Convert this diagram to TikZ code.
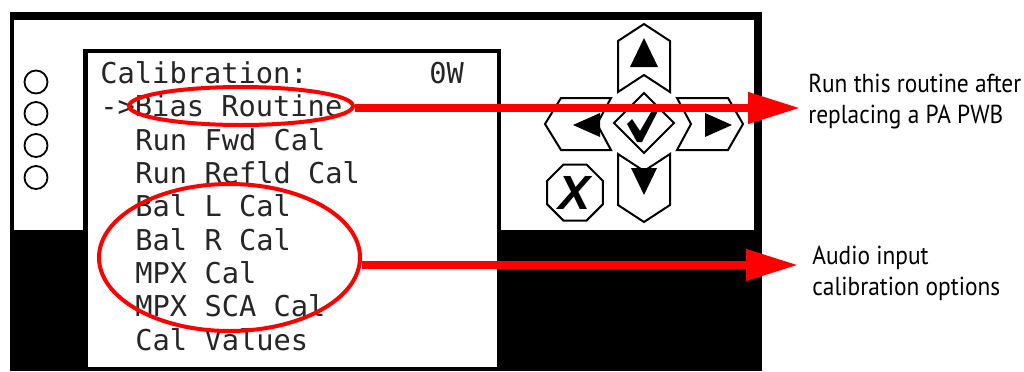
\documentclass[tikz,border=0pt]{standalone}
\usepackage{fontspec}
\setmainfont{Liberation Sans}
\newfontfamily\lcdfont{DejaVu Sans Mono}
\newfontfamily\labfont[FakeStretch=0.9]{PT Sans}
\usetikzlibrary{arrows.meta,shapes.geometric}
\begin{document}
\begin{tikzpicture}[x=0.5pt,y=-0.5pt,
  lcd/.style={anchor=base west,inner sep=0pt,font=\fontsize{14.35}{14.35}\lcdfont,text=black!85},
  lab/.style={anchor=base west,inner sep=0pt,align=left,font=\fontsize{13}{15.5}\labfont,text=black},
  key/.style={draw=black,fill=white,line width=1pt,line join=miter},
  glyph/.style={fill=black},
  led/.style={draw=black,line width=0.9pt,circle,inner sep=0pt,minimum size=11.5pt},
  ring/.style={draw=red,line width=2pt,ellipse,inner sep=0pt},
  callout/.style={draw=red,line width=3.8pt,-{Triangle[length=26pt,width=15pt]}}
]
\useasboundingbox (0,0) rectangle (1024,371);
% frame
\fill[black] (10,12) rectangle (762,371);
\fill[white] (14,20) rectangle (754,230);
% LCD
\fill[black] (83,49) rectangle (501,371);
\fill[white] (88,53) rectangle (497,367);
% LEDs
\node[led] (led1) at (36,82) {};
\node[led] (led2) at (36,113.5) {};
\node[led] (led3) at (36,145.5) {};
\node[led] (led4) at (36,177.5) {};
% LCD text
\node[lcd] (t0) at (100,83) {Calibration:};
\node[lcd] (t0w) at (429,83) {0W};
\node[lcd] (t1) at (100,116.5) {->Bias Routine};
\node[lcd] (t2) at (135,150) {Run Fwd Cal};
\node[lcd] (t3) at (135,183) {Run Refld Cal};
\node[lcd] (t4) at (135,216.5) {Bal L Cal};
\node[lcd] (t5) at (135,250) {Bal R Cal};
\node[lcd] (t6) at (135,283) {MPX Cal};
\node[lcd] (t7) at (135,316.5) {MPX SCA Cal};
\node[lcd] (t8) at (135,350) {Cal Values};
% keypad
\draw[key] (644,24) -- (670,41) -- (670,92) -- (644,75) -- (618,92) -- (618,41) -- cycle;
\fill[glyph] (644,38) -- (658,67) -- (630,67) -- cycle;
\draw[key] (644,222) -- (670,205) -- (670,154) -- (644,171) -- (618,154) -- (618,205) -- cycle;
\fill[glyph] (631,168) -- (657,168) -- (644,195) -- cycle;
\draw[key] (545,124) -- (561,98) -- (611,98) -- (597,124) -- (611,150) -- (561,150) -- cycle;
\fill[glyph] (573,125) -- (600,113) -- (600,137) -- cycle;
\draw[key] (743,124) -- (728,98) -- (677,98) -- (691,124) -- (677,150) -- (728,150) -- cycle;
\fill[glyph] (732,125) -- (705,113) -- (705,137) -- cycle;
\draw[key] (644,93) -- (674,123) -- (644,153) -- (614,123) -- cycle;
\fill[glyph] (627,124) -- (632,119) -- (640,131) -- (654,107) -- (659,109) -- (642,142) -- (637,142) -- cycle;
\draw[key] (575,192.5) +(22.5:30.3) -- +(67.5:30.3) -- +(112.5:30.3) -- +(157.5:30.3)
  -- +(202.5:30.3) -- +(247.5:30.3) -- +(292.5:30.3) -- +(337.5:30.3) -- cycle;
\node[inner sep=0pt,font=\fontsize{24}{24}\bfseries\itshape] (xkey) at (575,193) {X};
% labels
\node[lab] (lab1) at (808,123) {Run this routine after\\replacing a PA PWB};
\node[lab] (lab2) at (812,295) {Audio input\\calibration options};
% callouts
\node[ring,minimum width=112pt,minimum height=19pt] (e1) at (241,106) {};
\node[ring,minimum width=130.5pt,minimum height=73.5pt] (e2) at (229.5,257.5) {};
\coordinate (tip1) at (800,108);
\coordinate (tip2) at (798,265);
\draw[callout] (e1.east |- tip1) -- (tip1);
\draw[callout] (e2.east |- tip2) -- (tip2);
\end{tikzpicture}
\end{document}
